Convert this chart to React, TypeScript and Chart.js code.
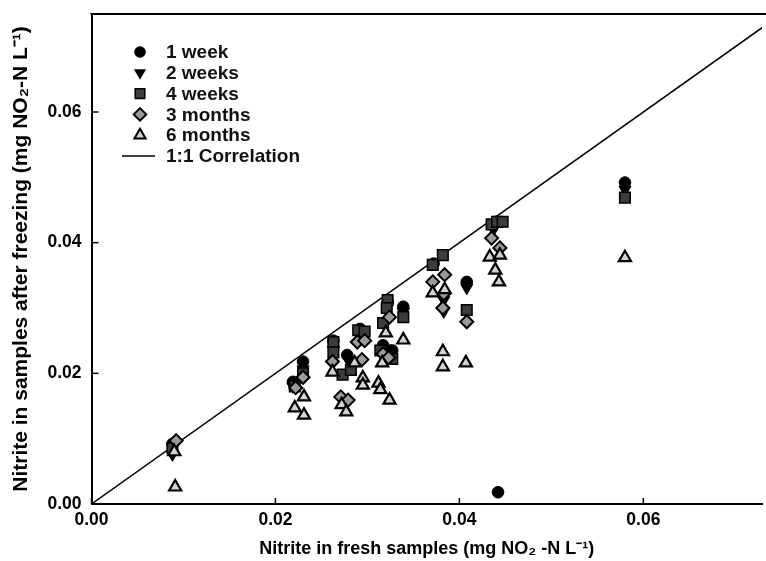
import React, { useEffect, useRef } from "react";
import { Chart, registerables } from "chart.js";

Chart.register(...registerables);

const X_MIN = 0;
const X_MAX = 0.0729;
const Y_MIN = 0;
const Y_MAX = 0.075;
const X_TICKS = [0, 0.02, 0.04, 0.06];
const Y_TICKS = [0, 0.02, 0.04, 0.06];

const LEGEND_LABELS = ["1 week", "2 weeks", "4 weeks", "3 months", "6 months", "1:1 Correlation"];

const WEEK1_X = [0.0088, 0.0219, 0.0230, 0.0263, 0.0278, 0.0292, 0.0317, 0.0327, 0.0322, 0.0339, 0.0372, 0.0408, 0.0440, 0.0442, 0.0580];
const WEEK1_Y = [0.0092, 0.0187, 0.0218, 0.0250, 0.0228, 0.0268, 0.0243, 0.0235, 0.0310, 0.0302, 0.0368, 0.0340, 0.0432, 0.0018, 0.0492];

const WEEK2_X = [0.0088, 0.0219, 0.0230, 0.0263, 0.0280, 0.0296, 0.0322, 0.0320, 0.0339, 0.0383, 0.0383, 0.0408, 0.0437, 0.0580];
const WEEK2_Y = [0.0076, 0.0180, 0.0206, 0.0236, 0.0218, 0.0256, 0.0303, 0.0238, 0.0294, 0.0295, 0.0312, 0.0331, 0.0420, 0.0481];

const WEEK4_X = [0.0088, 0.0221, 0.0230, 0.0263, 0.0263, 0.0273, 0.0282, 0.0290, 0.0297, 0.0317, 0.0322, 0.0321, 0.0314, 0.0327, 0.0339, 0.0371, 0.0382, 0.0408, 0.0435, 0.0441, 0.0447, 0.0580];
const WEEK4_Y = [0.0085, 0.0180, 0.0200, 0.0248, 0.0232, 0.0198, 0.0205, 0.0266, 0.0264, 0.0277, 0.0312, 0.0300, 0.0235, 0.0222, 0.0286, 0.0366, 0.0381, 0.0297, 0.0428, 0.0432, 0.0432, 0.0469];

const MONTH3_X = [0.0092, 0.0222, 0.0230, 0.0262, 0.0271, 0.0279, 0.0289, 0.0294, 0.0297, 0.0317, 0.0323, 0.0324, 0.0371, 0.0384, 0.0382, 0.0383, 0.0408, 0.0435, 0.0444];
const MONTH3_Y = [0.0097, 0.0178, 0.0194, 0.0218, 0.0164, 0.0159, 0.0248, 0.0221, 0.0250, 0.0230, 0.0224, 0.0286, 0.0340, 0.0351, 0.0300, 0.0322, 0.0279, 0.0407, 0.0392];

const MONTH6_X = [0.0091, 0.0090, 0.0221, 0.0231, 0.0231, 0.0262, 0.0272, 0.0277, 0.0286, 0.0295, 0.0295, 0.0312, 0.0314, 0.0324, 0.0316, 0.0320, 0.0339, 0.0371, 0.0384, 0.0382, 0.0382, 0.0407, 0.0433, 0.0444, 0.0439, 0.0443, 0.0580];
const MONTH6_Y = [0.0026, 0.0080, 0.0147, 0.0136, 0.0164, 0.0202, 0.0152, 0.0141, 0.0216, 0.0193, 0.0182, 0.0185, 0.0175, 0.0159, 0.0216, 0.0262, 0.0251, 0.0323, 0.0328, 0.0233, 0.0210, 0.0216, 0.0378, 0.0381, 0.0358, 0.0340, 0.0377];

const CORR_X = [0, 0.08];
const CORR_Y = [0, 0.08];

const FONT = "'Liberation Sans', Arial, Helvetica, sans-serif";
const SQUARE_FILL = "#3c3c3c";
const DIAMOND_FILL = "#9a9a9a";
const TRIANGLE_FILL = "#d2d2d2";

const pts = (xs: number[], ys: number[]) => xs.map((x, i) => ({ x, y: ys[i] }));

function drawMarker(ctx: CanvasRenderingContext2D, kind: number, x: number, y: number) {
  ctx.save();
  ctx.strokeStyle = "#000";
  ctx.lineJoin = "miter";
  if (kind === 0) {
    ctx.fillStyle = "#000";
    ctx.beginPath();
    ctx.arc(x, y, 5.8, 0, Math.PI * 2);
    ctx.fill();
  } else if (kind === 1) {
    const r = 7;
    ctx.fillStyle = "#000";
    ctx.beginPath();
    ctx.moveTo(x, y + r);
    ctx.lineTo(x + r * 0.866, y - r / 2);
    ctx.lineTo(x - r * 0.866, y - r / 2);
    ctx.closePath();
    ctx.fill();
  } else if (kind === 2) {
    const s = 4.8;
    ctx.fillStyle = SQUARE_FILL;
    ctx.lineWidth = 1.5;
    ctx.beginPath();
    ctx.rect(x - s, y - s, 2 * s, 2 * s);
    ctx.fill();
    ctx.stroke();
  } else if (kind === 3) {
    const r = 6.3;
    ctx.fillStyle = DIAMOND_FILL;
    ctx.lineWidth = 2;
    ctx.beginPath();
    ctx.moveTo(x, y - r);
    ctx.lineTo(x + r, y);
    ctx.lineTo(x, y + r);
    ctx.lineTo(x - r, y);
    ctx.closePath();
    ctx.fill();
    ctx.stroke();
  } else if (kind === 4) {
    const r = 6.5;
    ctx.fillStyle = TRIANGLE_FILL;
    ctx.lineWidth = 2;
    ctx.beginPath();
    ctx.moveTo(x, y - r);
    ctx.lineTo(x + r * 0.866, y + r / 2);
    ctx.lineTo(x - r * 0.866, y + r / 2);
    ctx.closePath();
    ctx.fill();
    ctx.stroke();
  }
  ctx.restore();
}

const framePlugin = {
  id: "frameAndLegend",
  afterDraw(chart: any) {
    const { ctx, chartArea, scales } = chart;
    const { left, top, bottom } = chartArea;
    ctx.save();
    ctx.strokeStyle = "#000";
    ctx.lineWidth = 2;
    ctx.beginPath();
    ctx.moveTo(left - 1, top);
    ctx.lineTo(chart.width, top);
    ctx.stroke();
    ctx.lineWidth = 1.5;
    scales.x.ticks.forEach((t: any) => {
      const px = scales.x.getPixelForValue(t.value);
      ctx.beginPath();
      ctx.moveTo(px, bottom);
      ctx.lineTo(px, bottom - 6);
      ctx.stroke();
    });
    scales.y.ticks.forEach((t: any) => {
      const py = scales.y.getPixelForValue(t.value);
      ctx.beginPath();
      ctx.moveTo(left, py);
      ctx.lineTo(left + 7, py);
      ctx.stroke();
    });
    const mx = left + 48.5;
    const tx = left + 74.5;
    ctx.font = `bold 19px ${FONT}`;
    ctx.fillStyle = "#111";
    ctx.textBaseline = "middle";
    ctx.textAlign = "left";
    LEGEND_LABELS.forEach((label, i) => {
      const y = top + 38 + i * 20.8;
      if (i < 5) {
        drawMarker(ctx, i, mx, y);
      } else {
        ctx.lineWidth = 1.5;
        ctx.strokeStyle = "#000";
        ctx.beginPath();
        ctx.moveTo(left + 30.5, y);
        ctx.lineTo(left + 63.5, y);
        ctx.stroke();
      }
      ctx.fillText(label, tx, y + 1);
    });
    ctx.restore();
  },
};

export default function App() {
  const ref = useRef<HTMLCanvasElement | null>(null);
  useEffect(() => {
    document.body.style.margin = "0";
    const canvas = ref.current;
    if (!canvas) return;
    const tickFont = { family: FONT, size: 17.5, weight: "bold" as const };
    const chart = new Chart(canvas, {
      type: "scatter",
      data: {
        datasets: [
          {
            label: LEGEND_LABELS[0],
            data: pts(WEEK1_X, WEEK1_Y),
            pointStyle: "circle",
            pointRadius: 5.8,
            backgroundColor: "#000",
            borderColor: "#000",
            borderWidth: 1,
            order: 5,
          },
          {
            label: LEGEND_LABELS[1],
            data: pts(WEEK2_X, WEEK2_Y),
            pointStyle: "triangle",
            rotation: 180,
            pointRadius: 7,
            backgroundColor: "#000",
            borderColor: "#000",
            borderWidth: 1,
            order: 4,
          },
          {
            label: LEGEND_LABELS[2],
            data: pts(WEEK4_X, WEEK4_Y),
            pointStyle: "rect",
            pointRadius: 7.5,
            backgroundColor: SQUARE_FILL,
            borderColor: "#000",
            borderWidth: 1.5,
            order: 3,
          },
          {
            label: LEGEND_LABELS[3],
            data: pts(MONTH3_X, MONTH3_Y),
            pointStyle: "rectRot",
            pointRadius: 6.5,
            backgroundColor: DIAMOND_FILL,
            borderColor: "#000",
            borderWidth: 2,
            order: 2,
          },
          {
            label: LEGEND_LABELS[4],
            data: pts(MONTH6_X, MONTH6_Y),
            pointStyle: "triangle",
            pointRadius: 7,
            backgroundColor: TRIANGLE_FILL,
            borderColor: "#000",
            borderWidth: 2.2,
            order: 1,
          },
          {
            type: "line",
            label: LEGEND_LABELS[5],
            data: pts(CORR_X, CORR_Y),
            borderColor: "#000",
            borderWidth: 1.5,
            pointRadius: 0,
            showLine: true,
            fill: false,
            order: 10,
          } as any,
        ],
      },
      options: {
        animation: false,
        responsive: false,
        devicePixelRatio: 1,
        layout: { autoPadding: false, padding: { left: 0, right: 4, top: 14, bottom: 0 } },
        plugins: { legend: { display: false }, tooltip: { enabled: false } },
        scales: {
          x: {
            type: "linear",
            min: X_MIN,
            max: X_MAX,
            afterFit: (s: any) => {
              s.height = 57;
              s.paddingLeft = 0;
              s.paddingRight = 0;
            },
            afterBuildTicks: (s: any) => {
              s.ticks = X_TICKS.map((v) => ({ value: v }));
            },
            grid: { drawOnChartArea: false, drawTicks: false },
            border: { display: true, color: "#000", width: 2 },
            ticks: {
              padding: 6,
              color: "#000",
              font: tickFont,
              callback: (v: any) => Number(v).toFixed(2),
            },
            title: {
              display: true,
              text: "Nitrite in fresh samples (mg NO\u2082 -N L\u207B\u00B9)",
              color: "#000",
              font: { family: FONT, size: 18, weight: "bold" as const },
              padding: { top: 0, bottom: 1.2 },
            },
          },
          y: {
            type: "linear",
            min: Y_MIN,
            max: Y_MAX,
            afterFit: (s: any) => {
              s.width = 91.5;
              s.paddingTop = 0;
              s.paddingBottom = 0;
            },
            afterBuildTicks: (s: any) => {
              s.ticks = Y_TICKS.map((v) => ({ value: v }));
            },
            grid: { drawOnChartArea: false, drawTicks: false },
            border: { display: true, color: "#000", width: 2 },
            ticks: {
              padding: 10,
              color: "#000",
              font: tickFont,
              callback: (v: any) => Number(v).toFixed(2),
            },
            title: {
              display: true,
              text: "Nitrite in samples after freezing (mg NO\u2082-N L\u207B\u00B9)",
              color: "#000",
              font: { family: FONT, size: 21, weight: "bold" as const },
              padding: { top: 9, bottom: 0 },
            },
          },
        },
      },
      plugins: [framePlugin],
    });
    return () => chart.destroy();
  }, []);
  return (
    <canvas
      ref={ref}
      width={766}
      height={561}
      style={{ display: "block", width: 766, height: 561 }}
    />
  );
}
